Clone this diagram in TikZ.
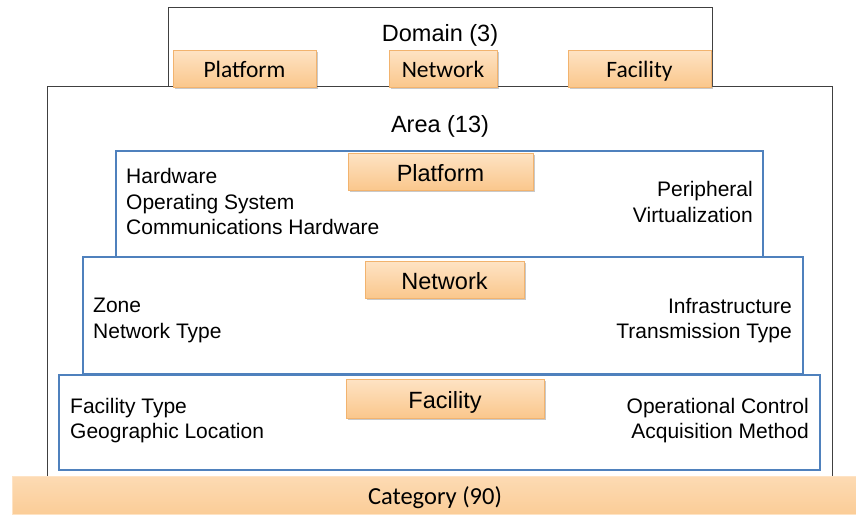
\documentclass[tikz,border=0pt]{standalone}
\usepackage{fontspec}
\setmainfont{Liberation Sans}
\newfontfamily\calib{Carlito}
\usetikzlibrary{shadows}
\definecolor{orTop}{HTML}{FEE3C4}
\definecolor{orBot}{HTML}{FAC78C}
\definecolor{orLine}{HTML}{F2B36E}
\definecolor{blueLine}{HTML}{4F81BD}
\definecolor{grayLine}{HTML}{404040}
\tikzset{
  x=1pt, y=-1pt,
  orbox/.style={rectangle, inner sep=0pt, draw=orLine, line width=0.6pt,
    top color=orTop, bottom color=orBot,
    drop shadow={shadow xshift=1.8pt, shadow yshift=-1.8pt, opacity=0.35, fill=black!60}},
  bluebox/.style={rectangle, inner sep=0pt, draw=blueLine, line width=2pt, fill=white},
  graybox/.style={rectangle, inner sep=0pt, draw=grayLine, line width=0.9pt, fill=white},
  title/.style={inner sep=0pt, text height=17pt, text depth=5pt, font=\fontsize{23.5}{28}\selectfont},
  head/.style={inner sep=0pt, text height=19pt, text depth=0pt, font=\fontsize{23.5}{28}\selectfont},
  smallhead/.style={inner sep=0pt, text height=17pt, text depth=0pt, font=\calib\fontsize{23.5}{28}\selectfont},
  body/.style={inner sep=0pt, align=left, font=\fontsize{21}{25.5}\selectfont},
  bodyr/.style={inner sep=0pt, align=right, font=\fontsize{21}{25.5}\selectfont},
}
\begin{document}
\begin{tikzpicture}
\useasboundingbox (0,0) rectangle (856,514);
% Domain
\node[graybox, minimum width=544pt, minimum height=79pt] (domain) at (440,46.5) {};
\node[title] (domaint) at (440,35) {Domain (3)};
% Area
\node[graybox, minimum width=785pt, minimum height=392pt] (area) at (439.5,282) {};
\node[title] (areat) at (440,126) {Area (13)};
% Domain orange boxes
\node[orbox, minimum width=143pt, minimum height=37pt] (dplat) at (244.5,68.5) {};
\node[smallhead] at (dplat) {Platform};
\node[orbox, minimum width=108pt, minimum height=37pt] (dnet) at (443,68.5) {};
\node[smallhead] at (dnet) {Network};
\node[orbox, minimum width=143pt, minimum height=37pt] (dfac) at (639.5,68.5) {};
\node[smallhead] at (dfac) {Facility};
% Platform box
\node[bluebox, minimum width=647pt, minimum height=106pt] (pbox) at (439.5,204) {};
\node[orbox, minimum width=185pt, minimum height=37pt] (plab) at (440.5,171.5) {};
\node[head] at (plab) {Platform};
\node[body, anchor=west] (pl) at (126,201.5) {Hardware\\Operating System\\Communications Hardware};
\node[bodyr, anchor=east] (pr) at (753,202) {Peripheral\\Virtualization};
% Network box
\node[bluebox, minimum width=720pt, minimum height=117pt] (nbox) at (443,315.5) {};
\node[orbox, minimum width=159pt, minimum height=37pt] (nlab) at (444.5,280) {};
\node[head] at (nlab) {Network};
\node[body, anchor=west] (nl) at (93,320.5) {Zone\\Network Type};
\node[bodyr, anchor=east] (nr) at (792,320.5) {Infrastructure\\Transmission Type};
% Facility box
\node[bluebox, minimum width=761pt, minimum height=95pt] (fbox) at (439.5,422.5) {};
\node[orbox, minimum width=198pt, minimum height=39pt] (flab) at (445,398.5) {};
\node[head] at (flab) {Facility};
\node[body, anchor=west] (fl) at (70,420.5) {Facility Type\\Geographic Location};
\node[bodyr, anchor=east] (fr) at (809,420.5) {Operational Control\\Acquisition Method};
% Category
\node[rectangle, inner sep=0pt, draw=orTop, line width=0.6pt, top color=orTop!70!orBot, bottom color=orBot!80!orTop,
  minimum width=846pt, minimum height=38pt] (cat) at (435,495.5) {};
\node[smallhead, font=\calib\fontsize{24.5}{29}\selectfont] at (cat) {Category (90)};
\end{tikzpicture}
\end{document}
